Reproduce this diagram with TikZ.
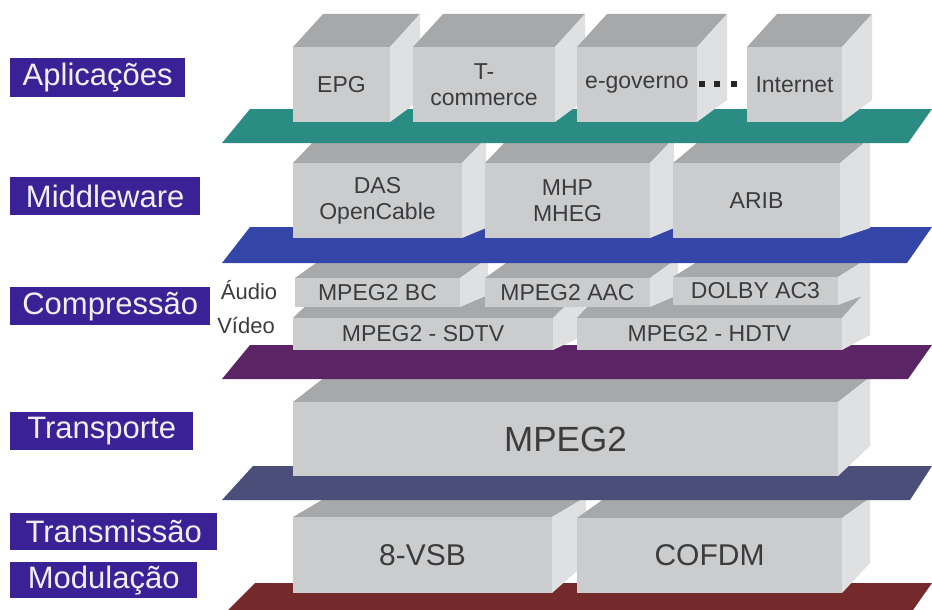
\documentclass[tikz,border=0pt]{standalone}
\usepackage{fontspec}
\setmainfont{Liberation Sans}
\definecolor{frontc}{HTML}{CBCCCE}
\definecolor{topc}{HTML}{A7A8AA}
\definecolor{sidec}{HTML}{DFE0E2}
\definecolor{txtc}{HTML}{3C3C3C}
\definecolor{labc}{HTML}{3A2296}
\definecolor{labtxt}{HTML}{F0F0F4}
\definecolor{tealc}{HTML}{2B8C84}
\definecolor{bluec}{HTML}{3446A8}
\definecolor{purc}{HTML}{5A2465}
\definecolor{slatec}{HTML}{4A4E78}
\definecolor{redc}{HTML}{742A2A}
\tikzset{
  frontf/.style={fill=frontc},
  topf/.style={fill=topc},
  sidef/.style={fill=sidec},
  boxtext/.style={text=txtc, font=\fontsize{23}{26}\selectfont, align=center, inner sep=0pt},
  sidetext/.style={text=txtc, font=\fontsize{22}{26}\selectfont, inner sep=0pt},
  layerlab/.style={fill=labc, text=labtxt, font=\fontsize{31}{33}\selectfont, anchor=north west, inner sep=0pt},
  dotsq/.style={fill=black!85, minimum size=6pt, inner sep=0pt}
}
% name, x1, yt, x2, yb, dx, dytop, dybottom, text
\newcommand\cube[9]{%
  \fill[topf] (#2,#3) -- (#2+#6,#3-#7) -- (#4+#6,#3-#7) -- (#4,#3) -- cycle;
  \fill[sidef] (#4,#3) -- (#4+#6,#3-#7) -- (#4+#6,#5-#8) -- (#4,#5) -- cycle;
  \fill[frontf] (#2,#3) rectangle (#4,#5);
  \node[boxtext] (#1) at ({(#2+#4)/2},{(#3+#5)/2}) {#9};
}
\begin{document}
\begin{tikzpicture}[x=1pt,y=-1pt]
\useasboundingbox (0,0) rectangle (932,610);
\fill[white] (0,0) rectangle (932,610);

% Modulation layer
\fill[redc] (228,610) -- (255,583) -- (932,583) -- (913,610) -- cycle;
\cube{vsb}{293}{517}{552}{593}{34}{20}{30}{\fontsize{30}{34}\selectfont 8-VSB}
\cube{cofdm}{577}{518}{842}{593}{28}{20}{30}{\fontsize{30}{34}\selectfont COFDM}

% Transport layer
\fill[slatec] (222,500) -- (253,466) -- (932,466) -- (910,500) -- cycle;
\cube{mpegt}{293}{402}{838}{476}{32}{25}{30}{\fontsize{35}{40}\selectfont MPEG2}

% Compression layer
\fill[purc] (222,379) -- (250,345) -- (932,345) -- (908,379) -- cycle;
\cube{sdtv}{293}{318}{553}{350}{32}{31}{15}{MPEG2 - SDTV}
\cube{hdtv}{577}{318}{842}{350}{28}{31}{15}{MPEG2 - HDTV}
\cube{bc}{295}{278}{460}{307}{28}{20}{12}{MPEG2 BC}
\cube{aac}{485}{278}{650}{307}{28}{20}{12}{MPEG2 AAC}
\cube{dolby}{673}{277}{838}{305}{32}{20}{12}{DOLBY AC3}

% Middleware layer
\fill[bluec] (222,263) -- (250,227) -- (932,227) -- (907,263) -- cycle;
\cube{das}{293}{163}{462}{238}{24}{25}{10}{DAS\\OpenCable}
\cube{mhp}{485}{163}{650}{238}{24}{25}{10}{MHP\\MHEG}
\cube{arib}{673}{163}{840}{238}{30}{25}{10}{ARIB}

% Applications layer
\fill[tealc] (222,143) -- (250,109) -- (932,109) -- (908,143) -- cycle;
\cube{epg}{293}{47}{390}{122}{30}{33}{22}{EPG}
\cube{tcom}{413}{47}{555}{122}{30}{33}{22}{T-\\commerce}
\cube{egov}{577}{47}{697}{122}{30}{33}{22}{e-governo}
\cube{inet}{747}{47}{842}{122}{30}{33}{22}{Internet}
\node[dotsq] (d1) at (701.5,84) {};
\node[dotsq] (d2) at (716.5,84) {};
\node[dotsq] (d3) at (733.5,84) {};

% Side texts
\node[sidetext] (audio) at (249,290) {Áudio};
\node[sidetext] (video) at (246,326) {Vídeo};

% Layer labels
\node[layerlab, minimum width=175pt, minimum height=39pt] (lapp) at (10,58) {Aplicações};
\node[layerlab, minimum width=190pt, minimum height=38pt] (lmid) at (10,177) {Middleware};
\node[layerlab, minimum width=200pt, minimum height=38pt] (lcomp) at (10,287) {Compressão};
\node[layerlab, minimum width=183pt, minimum height=38pt] (ltrans) at (10,412) {Transporte};
\node[layerlab, minimum width=207pt, minimum height=37pt] (ltx) at (10,513) {Transmissão};
\node[layerlab, minimum width=187pt, minimum height=36pt] (lmod) at (10,562) {Modulação};
\end{tikzpicture}
\end{document}
